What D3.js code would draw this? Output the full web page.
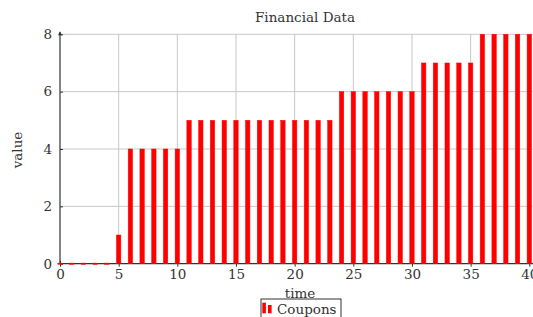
<!DOCTYPE html>
<html><head><meta charset="utf-8">
<script src="https://cdn.jsdelivr.net/npm/d3@7"></script>
<style>body{margin:0;background:#fff;}text{font-family:'DejaVu Serif',serif !important;}</style>
</head><body>
<svg id="c" width="533" height="317"></svg>
<script>
const times = d3.range(0, 41);
const coupons = [0,0,0,0,0,1,4,4,4,4,4,5,5,5,5,5,5,5,5,5,5,5,5,5,6,6,6,6,6,6,6,7,7,7,7,7,8,8,8,8,8];
const xTicks = [0,5,10,15,20,25,30,35,40];
const yTicks = [0,2,4,6,8];
const title = "Financial Data", xLabel = "time", yLabel = "value", seriesName = "Coupons";

const svg = d3.select("#c");
const x = d3.scaleLinear().domain([0,40]).range([60,529.3]);
const y = d3.scaleLinear().domain([0,8]).range([263.7,34.3]);
const grid = "#c8c8c8";
const fs = 13.5;

// grid
svg.append("g").selectAll("line").data(xTicks.slice(1)).join("line")
  .attr("x1",d=>x(d)).attr("x2",d=>x(d)).attr("y1",y(0)).attr("y2",y(8))
  .attr("stroke",grid).attr("stroke-width",1);
svg.append("g").selectAll("line").data(yTicks.slice(1)).join("line")
  .attr("x1",x(0)).attr("x2",533).attr("y1",d=>y(d)).attr("y2",d=>y(d))
  .attr("stroke",grid).attr("stroke-width",1);

// axes
const xAxis = d3.axisBottom(x).tickValues(xTicks).tickSize(3).tickPadding(3).tickFormat(d3.format("d"));
const gx = svg.append("g").attr("transform",`translate(0,${y(0)})`).call(xAxis);
gx.select(".domain").attr("d",`M${x(0)},0H533`).attr("stroke","#333").attr("stroke-width",1.2);
gx.selectAll(".tick line").attr("y1",-3).attr("stroke","#333");
gx.selectAll("text").attr("font-size",fs).attr("fill","#333");

const yAxis = d3.axisLeft(y).tickValues(yTicks).tickSize(3).tickPadding(5).tickFormat(d3.format("d"));
const gy = svg.append("g").attr("transform",`translate(${x(0)},0)`).call(yAxis);
gy.select(".domain").attr("d",`M0,${y(0)}V${y(8)-2}`).attr("stroke","#333").attr("stroke-width",1.2);
gy.selectAll(".tick line").attr("x2",3).attr("stroke","#333");
gy.selectAll("text").attr("font-size",fs).attr("fill","#333");
svg.append("path").attr("d",`M${x(0)-2},${y(8)+1}L${x(0)},${y(8)-3}L${x(0)+2},${y(8)+1}Z`).attr("fill","#333");

// bars (drawn over axis so zero bars show as red dashes)
const bw = 4.4;
svg.append("g").selectAll("rect").data(times).join("rect")
  .attr("x",d=>x(d)-bw/2).attr("width",bw)
  .attr("y",(d,i)=>y(coupons[i])-(coupons[i]===0?0.6:0)).attr("height",(d,i)=>Math.max(1.2,y(0)-y(coupons[i])))
  .attr("fill","#ff0000").attr("stroke","#ff0000").attr("stroke-width",0.5);

// labels
svg.append("text").attr("x",305).attr("y",22).attr("text-anchor","middle").attr("font-size",fs).attr("fill","#333").text(title);
svg.append("text").attr("x",300).attr("y",298).attr("text-anchor","middle").attr("font-size",fs).attr("fill","#333").text(xLabel);
svg.append("text").attr("transform","translate(22,150) rotate(-90)").attr("text-anchor","middle").attr("font-size",fs).attr("fill","#333").text(yLabel);

// legend
const lg = svg.append("g");
lg.append("rect").attr("x",261).attr("y",299).attr("width",80).attr("height",25).attr("fill","#fff").attr("stroke","#333").attr("stroke-width",1);
lg.selectAll("rect.ic").data([0,1]).join("rect").attr("class","ic")
  .attr("x",d=>262.3+d*5.7).attr("y",d=>d?305:302.7).attr("width",3.6).attr("height",d=>d?8.3:10.6).attr("fill","#ff0000");
lg.append("text").attr("x",277).attr("y",314).attr("font-size",fs).attr("fill","#333").text(seriesName);
</script>
</body></html>
